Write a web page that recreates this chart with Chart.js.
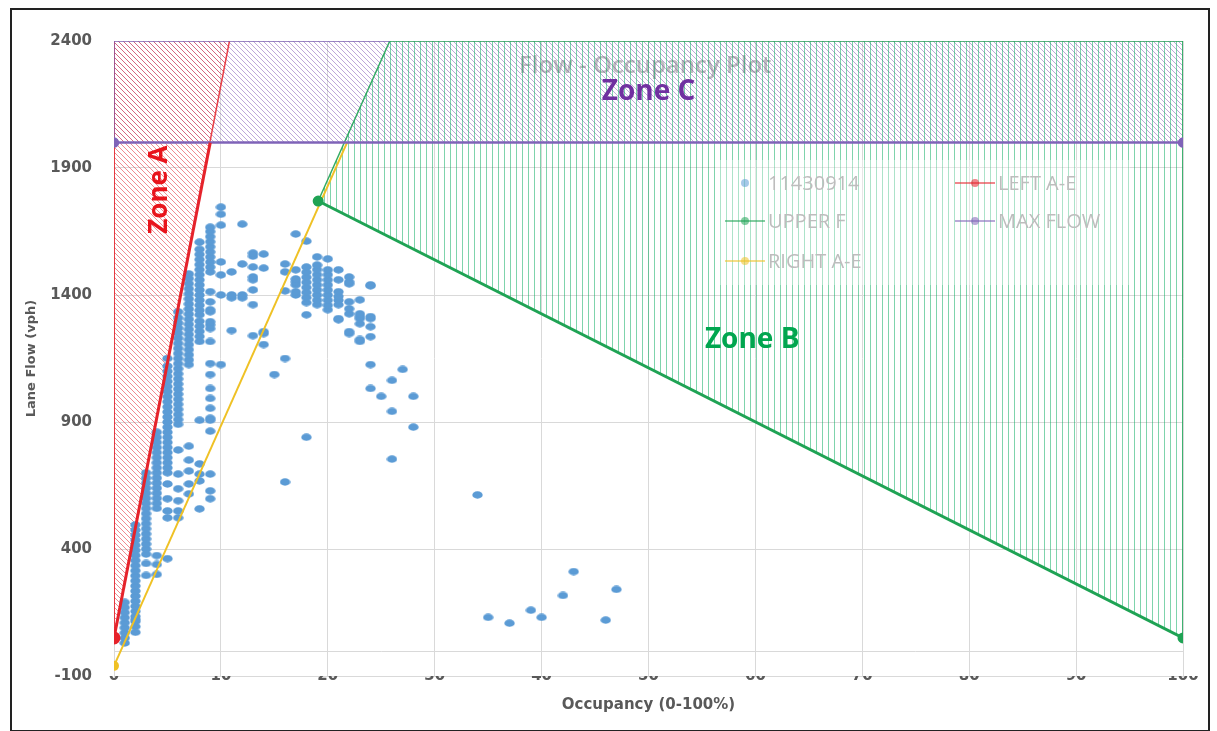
<!DOCTYPE html>
<html lang="en">
<head>
<meta charset="UTF-8">
<title>Flow - Occupancy Plot</title>
<script src="https://cdn.jsdelivr.net/npm/chart.js"></script>
<style>
    body { margin: 0; background: #ffffff; }
    .frame {
        position: absolute;
        left: 10px;
        top: 8px;
        width: 1196px;
        height: 720px;
        border: 2px solid #222;
    }
    canvas { display: block; }
</style>
</head>
<body>
<div class="frame"><canvas id="flowChart" width="1196" height="720"></canvas></div>

<script>
// scatter data: one entry per occupancy value, flows
const occColumns = [1, 2, 3, 4, 5, 6, 7, 8, 9, 10, 11, 12, 13, 14, 15, 16, 17, 18, 19, 20,
                    21, 22, 23, 24, 25, 26, 27, 28, 34, 35, 37, 39, 40, 42, 43, 46, 47];
const flowColumns = [
    [30, 50, 70, 90, 110, 130, 150, 170, 190],
    [72, 95, 115, 123, 135, 155, 175, 195, 215, 235, 255, 275, 295, 315, 335, 355, 375, 395, 415, 435, 455, 475, 495],
    [296, 343, 380, 400, 420, 440, 460, 480, 500, 520, 540, 560, 580, 600, 620, 640, 660, 680, 700],
    [300, 339, 374, 560, 580, 600, 620, 640, 660, 680, 700, 720, 740, 760, 780, 800, 820, 840, 860],
    [362, 523, 550, 598, 656, 700, 720, 740, 760, 780, 800, 820, 840, 860, 880, 900, 920, 940, 960, 980, 1000,
     1020, 1040, 1060, 1080, 1100, 1120, 1150],
    [523, 550, 590, 637, 695, 790, 891, 910, 930, 950, 970, 990, 1010, 1030, 1050, 1070, 1090, 1110, 1130, 1150,
     1170, 1190, 1210, 1230, 1250, 1270, 1290, 1310, 1334],
    [617, 656, 707, 750, 805, 1126, 1145, 1165, 1185, 1205, 1225, 1245, 1265, 1285, 1305, 1325, 1345, 1365, 1385,
     1405, 1425, 1445, 1465, 1483],
    [558, 668, 695, 735, 907, 1217, 1237, 1257, 1277, 1297, 1322, 1340, 1360, 1380, 1400, 1420, 1440, 1460, 1480,
     1500, 1520, 1540, 1560, 1580, 1608],
    [598, 629, 695, 864, 907, 915, 954, 993, 1032, 1087, 1130, 1217, 1268, 1283, 1295, 1334, 1342, 1373, 1413,
     1491, 1510, 1530, 1550, 1570, 1590, 1610, 1630, 1650, 1667],
    [1126, 1400, 1479, 1530, 1675, 1718, 1746],
    [1260, 1389, 1400, 1491],
    [1389, 1400, 1522, 1679],
    [1240, 1362, 1420, 1460, 1471, 1510, 1553, 1565],
    [1205, 1248, 1256, 1506, 1561],
    [1087],
    [664, 1150, 1416, 1491, 1522],
    [1400, 1413, 1440, 1452, 1463, 1499, 1640],
    [840, 1322, 1370, 1390, 1410, 1430, 1450, 1470, 1490, 1510, 1612],
    [1362, 1380, 1400, 1420, 1440, 1460, 1480, 1500, 1518, 1550],
    [1342, 1360, 1380, 1400, 1420, 1440, 1460, 1480, 1499, 1542],
    [1303, 1307, 1362, 1380, 1395, 1413, 1460, 1499],
    [1248, 1256, 1326, 1346, 1373, 1444, 1452, 1471],
    [1217, 1225, 1287, 1307, 1315, 1326, 1381],
    [1032, 1126, 1236, 1275, 1307, 1315, 1436, 1440],
    [1001],
    [754, 942, 1064],
    [1107],
    [880, 1001],
    [613], [131], [108], [159], [131], [217], [311], [120], [241]
];

// boundary lines
const leftOcc = [0, 9];
const leftFlow = [50, 2000];
const upperOcc = [19.1, 100];
const upperFlow = [1770, 50];
const maxOcc = [0, 100];
const maxFlowVals = [2000, 2000];
const rightOcc = [0, 21.8];
const rightFlow = [-60, 2000];

// hatched zones
const zoneAOcc = [0, 10.8];
const zoneAFlow = [50, 2400];
const zoneBOcc = [19.1, 25.8, 100];
const zoneBFlow = [1770, 2400, 2400];
const zoneCOcc = [0, 100];
const zoneCFlow = [2000, 2000];
const edgeAOcc = [0, 0];
const edgeAFlow = [50, 2400];
const edgeCOcc = [0, 0, 25.8];
const edgeCFlow = [2000, 2400, 2400];
const edgeBOcc = [100, 100];
const edgeBFlow = [50, 2400];

// axis
const yMin = -100, yMax = 2400, yStep = 500;
const xMin = 0, xMax = 100, xStep = 10;

function pts(xs, ys) {
    return xs.map((x, i) => ({ x: x, y: ys[i] }));
}

const scatterPoints = [];
occColumns.forEach((occ, i) => {
    flowColumns[i].forEach(f => scatterPoints.push({ x: occ, y: f }));
});

function hatch(color, kind, size) {
    const tile = document.createElement('canvas');
    tile.width = size;
    tile.height = size;
    const g = tile.getContext('2d');
    g.strokeStyle = color;
    g.lineWidth = 1;
    g.beginPath();
    if (kind === 'vertical') {
        g.moveTo(0.5, 0);
        g.lineTo(0.5, size);
    } else {
        g.moveTo(0, 0);
        g.lineTo(size, size);
        g.moveTo(-1, size - 1);
        g.lineTo(1, size + 1);
        g.moveTo(size - 1, -1);
        g.lineTo(size + 1, 1);
    }
    g.stroke();
    return g.createPattern(tile, 'repeat');
}

function dotImage(color, w, h) {
    const c = document.createElement('canvas');
    c.width = w;
    c.height = h;
    const g = c.getContext('2d');
    g.fillStyle = color;
    g.beginPath();
    g.ellipse(w / 2, h / 2, w / 2 - 0.3, h / 2 - 0.3, 0, 0, Math.PI * 2);
    g.fill();
    return c;
}

const BLUE = '#5b9bd5';
const RED = '#e5232b';
const GREEN = '#1fa354';
const PURPLE = '#7f63b8';
const YELLOW = '#efc125';

const tickFont = { family: 'DejaVu Sans', size: 15, weight: 'bold' };

// title, zone names and legend drawn on the chart area
const overlayPlugin = {
    id: 'overlay',
    beforeDatasetsDraw(chart) {
        const ctx = chart.ctx, x = chart.scales.x, y = chart.scales.y;
        ctx.save();
        // horizontal axis line at flow 0
        ctx.strokeStyle = '#d9d9d9';
        ctx.lineWidth = 1;
        ctx.beginPath();
        ctx.moveTo(chart.chartArea.left, Math.round(y.getPixelForValue(0)) + 0.5);
        ctx.lineTo(chart.chartArea.right, Math.round(y.getPixelForValue(0)) + 0.5);
        ctx.stroke();
        ctx.fillStyle = '#bdbdbd';
        ctx.font = '600 24px "Open Sans"';
        ctx.textAlign = 'center';
        ctx.textBaseline = 'middle';
        ctx.fillText('Flow - Occupancy Plot', x.getPixelForValue(49.7), y.getPixelForValue(2300));
        ctx.restore();
    },
    afterDatasetsDraw(chart) {
        const ctx = chart.ctx, x = chart.scales.x, y = chart.scales.y;
        ctx.save();
        ctx.textAlign = 'center';
        ctx.textBaseline = 'middle';
        ctx.font = 'bold 28px "Open Sans"';
        ctx.fillStyle = '#7030a0';
        ctx.fillText('Zone C', x.getPixelForValue(50), y.getPixelForValue(2200));
        ctx.fillStyle = '#00a64f';
        ctx.fillText('Zone B', x.getPixelForValue(59.7), y.getPixelForValue(1224));
        ctx.save();
        ctx.translate(x.getPixelForValue(4.3), y.getPixelForValue(1815));
        ctx.rotate(-Math.PI / 2);
        ctx.font = 'bold 26px "Open Sans"';
        ctx.fillStyle = '#e8141c';
        ctx.fillText('Zone A', 0, 0);
        ctx.restore();

        // legend
        ctx.fillStyle = 'rgba(255,255,255,0.35)';
        ctx.fillRect(703, 150, 415, 125);
        const items = [
            { text: '11430914', color: BLUE, line: false, mx: 733, y: 173 },
            { text: 'LEFT A-E', color: RED, line: true, mx: 963, y: 173 },
            { text: 'UPPER F', color: GREEN, line: true, mx: 733, y: 211 },
            { text: 'MAX FLOW', color: PURPLE, line: true, mx: 963, y: 211 },
            { text: 'RIGHT A-E', color: YELLOW, line: true, mx: 733, y: 251 }
        ];
        ctx.font = '20px "Open Sans"';
        ctx.textAlign = 'left';
        items.forEach(it => {
            ctx.globalAlpha = 0.55;
            if (it.line) {
                ctx.strokeStyle = it.color;
                ctx.lineWidth = 2;
                ctx.beginPath();
                ctx.moveTo(it.mx - 20, it.y);
                ctx.lineTo(it.mx + 20, it.y);
                ctx.stroke();
            }
            ctx.fillStyle = it.color;
            ctx.beginPath();
            ctx.arc(it.mx, it.y, 4, 0, Math.PI * 2);
            ctx.fill();
            ctx.globalAlpha = 1;
            ctx.fillStyle = '#bdbdbd';
            ctx.fillText(it.text, it.mx + 23, it.y + 1);
        });
        ctx.restore();
    }
};

function lineSet(label, xs, ys, color, width, radius) {
    return {
        label: label,
        data: pts(xs, ys),
        showLine: true,
        borderColor: color,
        backgroundColor: color,
        borderWidth: width,
        pointRadius: radius,
        pointBackgroundColor: color,
        pointBorderColor: color,
        fill: false,
        order: 2
    };
}

new Chart(document.getElementById('flowChart'), {
    type: 'scatter',
    data: {
        datasets: [
            {
                label: '11430914',
                data: scatterPoints,
                pointStyle: dotImage(BLUE, 11, 8),
                pointRadius: 4,
                backgroundColor: BLUE,
                order: 3
            },
            lineSet('LEFT A-E', leftOcc, leftFlow, RED, 3, [5, 0]),
            lineSet('UPPER F', upperOcc, upperFlow, GREEN, 3, 4),
            lineSet('MAX FLOW', maxOcc, maxFlowVals, PURPLE, 2.5, 4),
            lineSet('RIGHT A-E', rightOcc, rightFlow, YELLOW, 2, [4, 0]),
            {
                label: 'zoneC',
                data: pts(zoneCOcc, zoneCFlow),
                showLine: true,
                borderWidth: 0,
                pointRadius: 0,
                backgroundColor: hatch('rgba(112,60,170,0.45)', 'diagonal', 5),
                fill: { value: 2400 },
                order: 20
            },
            {
                label: 'zoneA',
                data: pts(zoneAOcc, zoneAFlow),
                showLine: true,
                borderColor: 'rgba(229,35,43,0.85)',
                borderWidth: 1.5,
                pointRadius: 0,
                backgroundColor: hatch('rgba(232,60,70,0.6)', 'diagonal', 5),
                fill: { value: 2400 },
                order: 19
            },
            {
                label: 'zoneB',
                data: pts(zoneBOcc, zoneBFlow),
                showLine: true,
                borderColor: 'rgba(31,163,84,0.9)',
                borderWidth: 1.5,
                pointRadius: 0,
                backgroundColor: hatch('rgba(0,170,90,0.5)', 'vertical', 6),
                fill: 2,
                order: 18
            },
            {
                label: 'edgeA',
                data: pts(edgeAOcc, edgeAFlow),
                showLine: true,
                borderColor: 'rgba(229,35,43,0.85)',
                borderWidth: 2,
                pointRadius: 0,
                order: 17
            },
            {
                label: 'edgeC',
                data: pts(edgeCOcc, edgeCFlow),
                showLine: true,
                borderColor: 'rgba(127,99,184,0.9)',
                borderWidth: 1.5,
                pointRadius: 0,
                order: 16
            },
            {
                label: 'edgeB',
                data: pts(edgeBOcc, edgeBFlow),
                showLine: true,
                borderColor: 'rgba(31,163,84,0.9)',
                borderWidth: 1.5,
                pointRadius: 0,
                order: 15
            }
        ]
    },
    options: {
        responsive: false,
        animation: false,
        layout: { padding: { top: 28, right: 25, left: 0, bottom: 0 } },
        plugins: {
            legend: { display: false },
            tooltip: { enabled: false }
        },
        scales: {
            x: {
                type: 'linear',
                min: xMin,
                max: xMax,
                ticks: { stepSize: xStep, color: '#595959', font: tickFont, padding: -9, maxRotation: 0 },
                grid: { color: '#d9d9d9', drawTicks: false },
                border: { color: '#d9d9d9' },
                title: {
                    display: true,
                    text: 'Occupancy (0-100%)',
                    color: '#595959',
                    font: { family: 'DejaVu Sans', size: 15, weight: 'bold' },
                    padding: { bottom: 16, top: 0 }
                },
                afterFit(scale) { scale.height = 54; }
            },
            y: {
                type: 'linear',
                min: yMin,
                max: yMax,
                ticks: {
                    stepSize: yStep,
                    color: '#595959',
                    font: tickFont,
                    padding: 22,
                    callback: v => String(v)
                },
                grid: { color: '#d9d9d9', drawTicks: false },
                border: { color: '#d9d9d9' },
                title: {
                    display: true,
                    text: 'Lane Flow (vph)',
                    color: '#595959',
                    font: { family: 'DejaVu Sans', size: 13, weight: 'bold' },
                    padding: { top: 12, bottom: 0 }
                },
                afterFit(scale) { scale.width = 102; }
            }
        }
    },
    plugins: [overlayPlugin]
});
</script>
</body>
</html>
